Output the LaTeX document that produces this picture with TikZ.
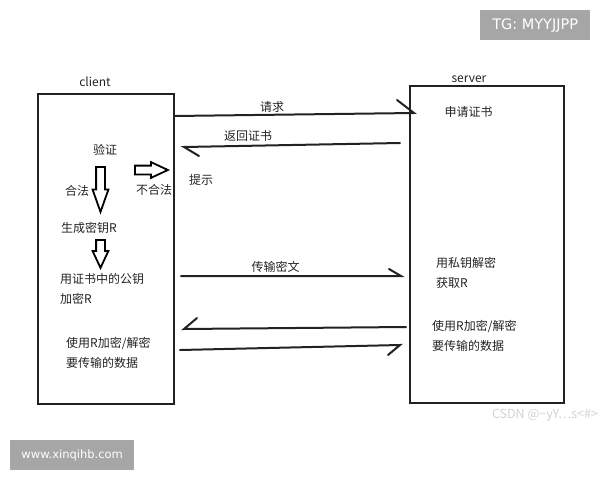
\documentclass[tikz,border=0pt]{standalone}
\usepackage{fontspec}
\setmainfont{Noto Sans CJK SC}
\newfontfamily\markfont{DejaVu Sans}
\usetikzlibrary{shapes.arrows}
\definecolor{markgray}{HTML}{A6A6A6}
\definecolor{csdngray}{HTML}{D2D2D2}
\definecolor{inkgray}{HTML}{222222}
\tikzset{
  box/.style={draw=inkgray,line width=2pt,inner sep=0pt},
  lbl/.style={inner sep=0pt,text=inkgray,align=left,font=\fontsize{12}{20}\selectfont},
  msg/.style={draw=inkgray,line width=2pt,line cap=round,line join=miter},
  blockarrow/.style={draw=black,line width=1.8pt,single arrow,inner sep=3.5pt,single arrow head extend=3.5pt,anchor=tail},
  markbox/.style={fill=markgray,text=white,inner sep=0pt,font=\markfont\fontsize{11.5}{14}\selectfont}
}
\begin{document}
\begin{tikzpicture}[x=1pt,y=-1pt]
  \useasboundingbox (0,0) rectangle (600,480);
  \draw
    (106,249) node[box,minimum width=136pt,minimum height=310pt] (clientbox){}
    (487,244.5) node[box,minimum width=154pt,minimum height=317pt] (serverbox){};
  \draw
    (95,82) node[lbl] (client){client}
    (469,79) node[lbl] (server){server}
    (272,107) node[lbl] (request){请求}
    (248,136) node[lbl] (cert){返回证书}
    (105,150) node[lbl] (verify){验证}
    (77,191) node[lbl] (legal){合法}
    (154,190) node[lbl] (illegal){不合法}
    (201,180) node[lbl] (notice){提示}
    (89,228) node[lbl] (genkey){生成密钥R}
    (60,289) node[lbl,anchor=west] (pubkey){用证书中的公钥\\加密R}
    (66,353) node[lbl,anchor=west] (usea){使用R加密/解密\\要传输的数据}
    (468.5,112) node[lbl] (apply){申请证书}
    (275.5,267) node[lbl] (cipher){传输密文}
    (436,273) node[lbl,anchor=west] (prikey){用私钥解密\\获取R}
    (432,336) node[lbl,anchor=west] (useb){使用R加密/解密\\要传输的数据};
  \draw
    (100.5,166) node[blockarrow,rotate=-90,minimum height=45pt,single arrow tip angle=39] (downa){}
    (100.5,239) node[blockarrow,rotate=-90,minimum height=28pt,single arrow tip angle=50] (downb){}
    (134,170) node[blockarrow,minimum height=33pt,single arrow tip angle=50] (rightc){};
  \draw
    (480,10) node[markbox,anchor=north west,minimum width=110pt,minimum height=30pt,font=\markfont\fontsize{14.5}{16}\selectfont] (tgmark){TG: MYYJJPP}
    (10,440) node[markbox,anchor=north west,minimum width=124pt,minimum height=30pt] (sitemark){www.xinqihb.com}
    (545,415) node[inner sep=0pt,text=csdngray,font=\fontsize{12.5}{14}\selectfont] (csdn){CSDN @\textasciitilde yY⋯s<\#>};
  \coordinate (reqa) at (174,116);
  \coordinate (reqb) at (414,113);
  \coordinate (reqc) at (397,100);
  \coordinate (reta) at (400,143);
  \coordinate (retb) at (184,147);
  \coordinate (retc) at (199,156);
  \coordinate (sena) at (181,276);
  \coordinate (senb) at (401,276);
  \coordinate (senc) at (389,269);
  \coordinate (baca) at (406,327);
  \coordinate (bacb) at (184,329);
  \coordinate (bacc) at (197,318);
  \coordinate (fora) at (180,350);
  \coordinate (forb) at (400,345);
  \coordinate (forc) at (388,355);
  \begin{scope}[msg]
    \draw (reqa) to (reqb) to (reqc);
    \draw (reta) to (retb) to (retc);
    \draw (sena) to (senb) to (senc);
    \draw (baca) to (bacb) to (bacc);
    \draw (fora) to (forb) to (forc);
  \end{scope}
\end{tikzpicture}
\end{document}
